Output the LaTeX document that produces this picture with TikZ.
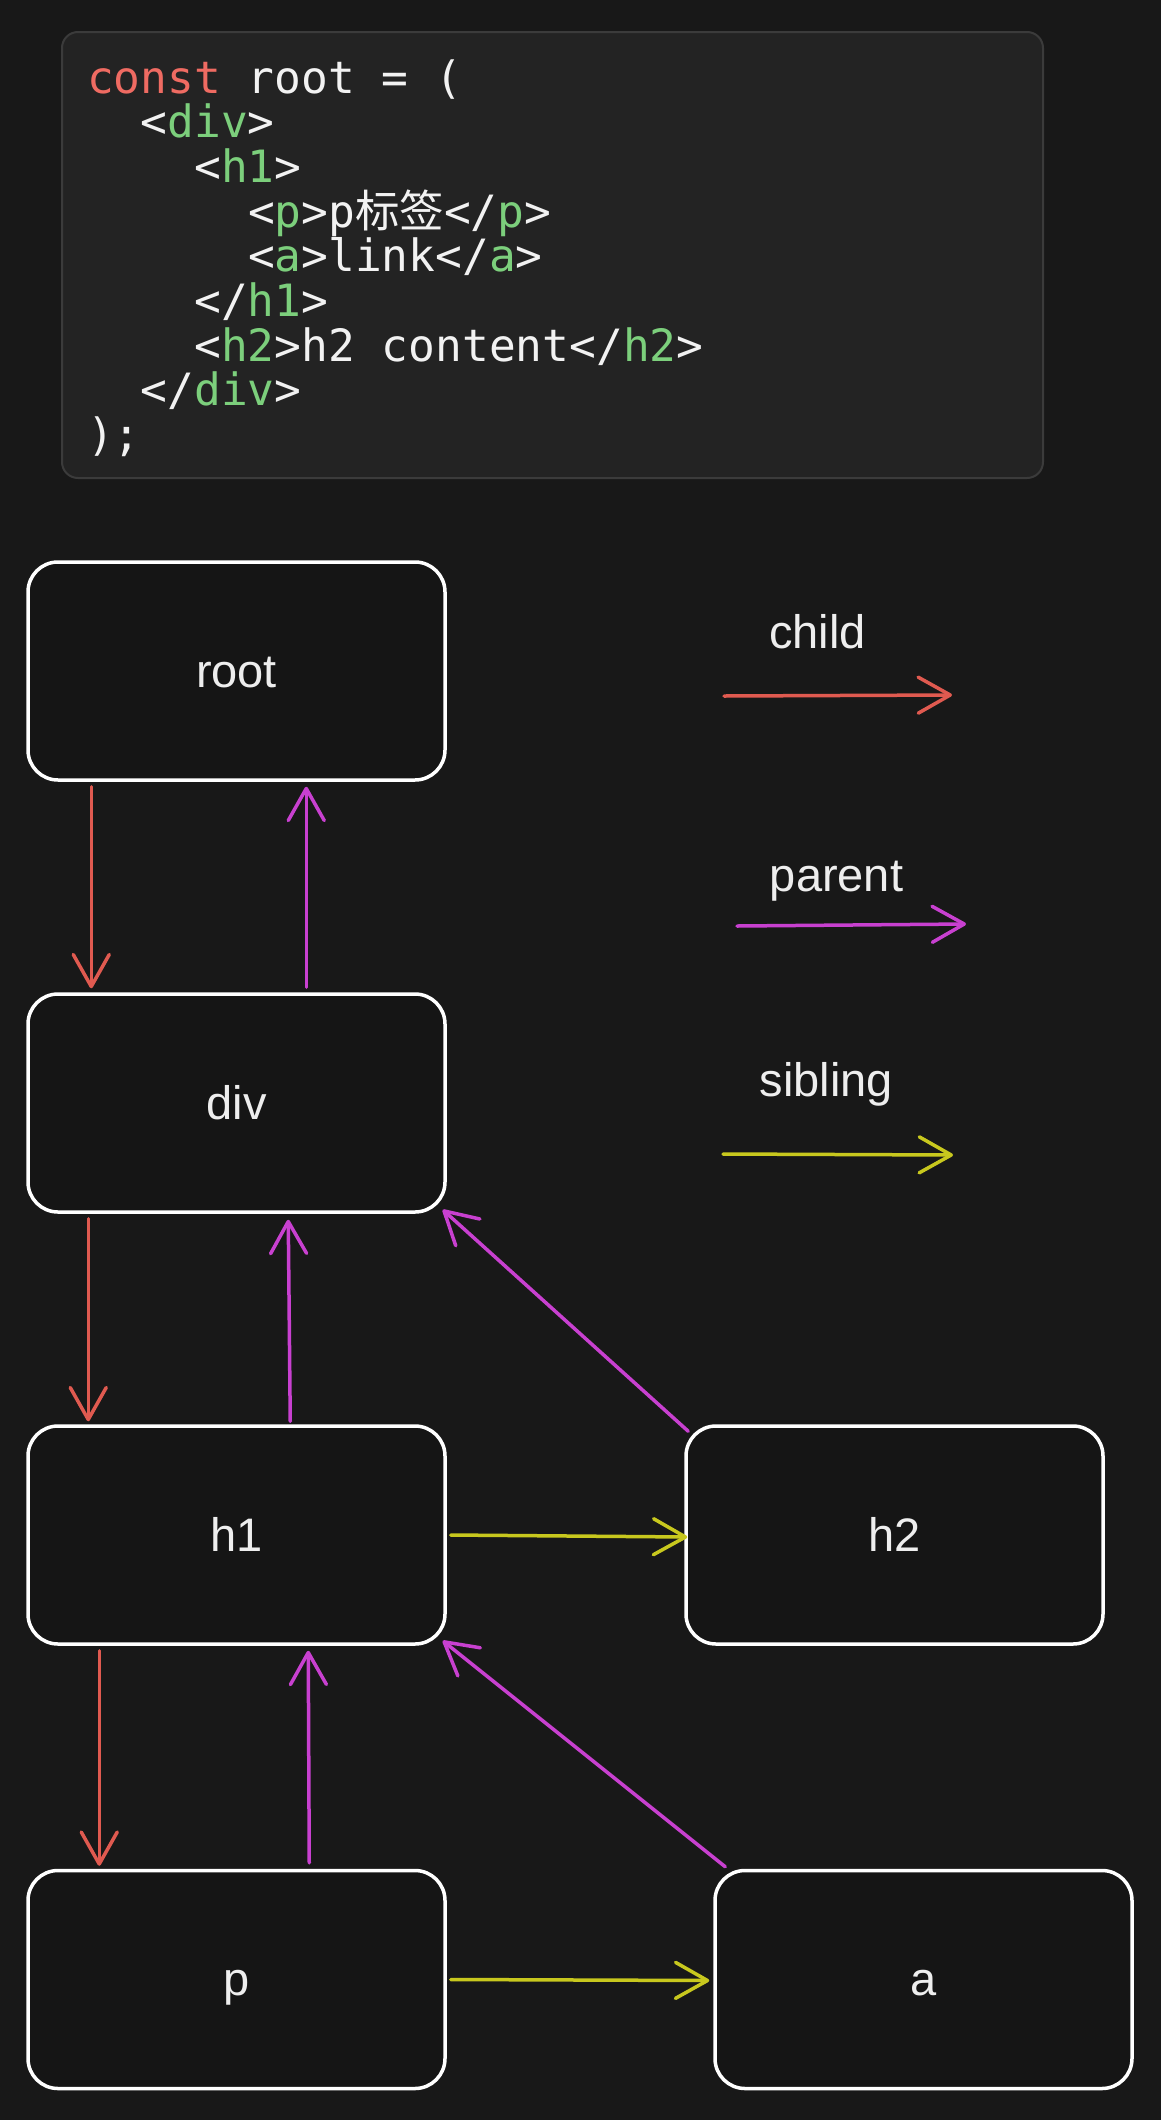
\documentclass[tikz,border=0pt]{standalone}
\usepackage{fontspec}
\setmainfont{Liberation Sans}
\setmonofont{DejaVu Sans Mono}
\newfontfamily\cjkfont{Noto Sans CJK SC}
\usetikzlibrary{arrows.meta}
\definecolor{bg}{HTML}{181818}
\definecolor{boxfill}{HTML}{151515}
\definecolor{codefill}{HTML}{232323}
\definecolor{codeborder}{HTML}{3B3B3B}
\definecolor{codetext}{HTML}{F2F2F2}
\definecolor{codegreen}{HTML}{7CCF7C}
\definecolor{codekw}{HTML}{EF6B62}
\definecolor{childc}{HTML}{E05A50}
\definecolor{parentc}{HTML}{C840D0}
\definecolor{siblingc}{HTML}{C8C81E}
\definecolor{labelc}{HTML}{EEEEEE}
\newcommand\codetag[1]{\textcolor{codegreen}{#1}}
\newcommand\codekw[1]{\textcolor{codekw}{#1}}
\tikzset{
  nodebox/.style={draw=white, line width=3.5pt, fill=boxfill, rounded corners=30pt,
    minimum width=417pt, minimum height=218pt, inner sep=0pt,
    text=labelc, font=\fontsize{47pt}{50pt}\selectfont, text height=32pt, text depth=0pt},
  codeline/.style={anchor=base west, inner sep=0pt, text=codetext,
    font=\ttfamily\fontsize{44.5pt}{45pt}\selectfont},
  legendtext/.style={anchor=base, inner sep=0pt, text=labelc, font=\fontsize{47pt}{50pt}\selectfont},
  conn/.style={line width=3.5pt, line cap=round, -{Straight Barb[length=32pt,width=36pt,round]}},
  childarrow/.style={conn, draw=childc},
  parentarrow/.style={conn, draw=parentc},
  siblingarrow/.style={conn, draw=siblingc}
}
\begin{document}
\begin{tikzpicture}[x=1pt,y=-1pt]
\fill[bg] (0,0) rectangle (1161,2120);
\useasboundingbox (0,0) rectangle (1161,2120);

% code block
\node[draw=codeborder, line width=2pt, fill=codefill, rounded corners=16pt,
  minimum width=981pt, minimum height=446pt, inner sep=0pt] (code) at (552.5,255) {};
\node[codeline] (l1) at (87,93) {\codekw{const} root = (};
\node[codeline] (l2) at (140.6,137.7) {<\codetag{div}>};
\node[codeline] (l3) at (194.2,182.4) {<\codetag{h1}>};
\node[codeline] (l4) at (247.8,227.1) {<\codetag{p}>p{\cjkfont 标签}</\codetag{p}>};
\node[codeline] (l5) at (247.8,271.8) {<\codetag{a}>link</\codetag{a}>};
\node[codeline] (l6) at (194.2,316.5) {</\codetag{h1}>};
\node[codeline] (l7) at (194.2,361.2) {<\codetag{h2}>h2 content</\codetag{h2}>};
\node[codeline] (l8) at (140.6,405.9) {</\codetag{div}>};
\node[codeline] (l9) at (87,450.6) {);};

% tree nodes
\node[nodebox] (root) at (236.5,671) {root};
\node[nodebox] (div) at (236.5,1103) {div};
\node[nodebox] (h1) at (236.5,1535) {h1};
\node[nodebox] (p) at (236.5,1979.5) {p};
\node[nodebox] (h2) at (894.5,1535) {h2};
\node[nodebox] (a) at (923.5,1979.5) {a};

% legend
\node[legendtext] (lchild) at (817.5,648.5) {child};
\node[legendtext] (lparent) at (836.5,891) {parent};
\node[legendtext] (lsibling) at (826.5,1096) {sibling};
\coordinate (cs) at (724,696);
\coordinate (ce) at (952,695);
\coordinate (ps) at (737,926);
\coordinate (pe) at (966,924);
\coordinate (ss) at (723,1154);
\coordinate (se) at (953,1155);
\draw[childarrow] (cs) -- (ce);
\draw[parentarrow] (ps) -- (pe);
\draw[siblingarrow] (ss) -- (se);

% child connectors
\draw[childarrow] ([xshift=65pt,yshift=-5pt]root.south west) -- ([xshift=65pt,yshift=4pt]div.north west);
\draw[childarrow] ([xshift=62pt,yshift=-5pt]div.south west) -- ([xshift=62pt,yshift=3pt]h1.north west);
\draw[childarrow] ([xshift=73pt,yshift=-5pt]h1.south west) -- ([xshift=73pt,yshift=3pt]p.north west);

% parent connectors
\draw[parentarrow] ([xshift=280pt,yshift=5pt]div.north west) -- ([xshift=280pt,yshift=-5pt]root.south west);
\draw[parentarrow] ([xshift=264pt,yshift=3pt]h1.north west) -- ([xshift=262pt,yshift=-6pt]div.south west);
\draw[parentarrow] ([xshift=283pt,yshift=6pt]p.north west) -- ([xshift=282pt,yshift=-5pt]h1.south west);
\draw[parentarrow] ([xshift=4pt,yshift=-7pt]h2.north west) -- ([xshift=-4pt,yshift=4pt]div.south east);
\draw[parentarrow] ([xshift=12pt,yshift=2pt]a.north west) -- ([xshift=-4pt,yshift=5pt]h1.south east);

% sibling connectors
\draw[siblingarrow] ([xshift=4pt]h1.east) -- ([xshift=3pt,yshift=-2pt]h2.west);
\draw[siblingarrow] ([xshift=4pt]p.east) -- ([xshift=-4pt,yshift=-1pt]a.west);
\end{tikzpicture}
\end{document}
